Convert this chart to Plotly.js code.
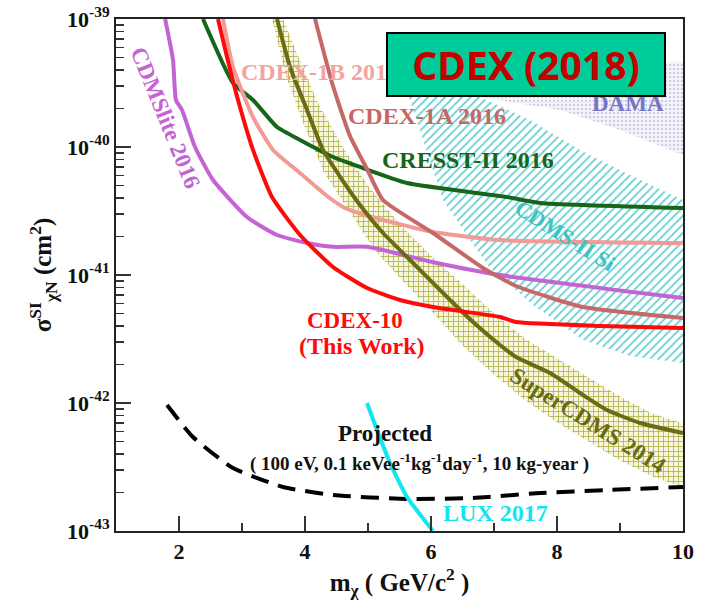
<!DOCTYPE html>
<html><head><meta charset="utf-8">
<script src="https://cdn.plot.ly/plotly-3.0.1.min.js"></script>
<style>html,body{margin:0;padding:0;background:#fff}#chart{width:705px;height:603px}</style>
</head><body><div id="chart"></div>
<script>
// ---- data (x = m_chi in GeV/c^2, y = log10 sigma in cm^2) ----
const cdmsliteX = [1.78, 1.905, 1.952, 2.048, 2.254, 2.54, 3.079, 3.556, 4.032, 4.444, 4.984, 6.032, 7.095, 10.0];
const cdmsliteY = [-39.0, -39.32, -39.633, -39.711, -40.0, -40.258, -40.547, -40.6875, -40.75, -40.78, -40.78, -40.9, -41.0, -41.18];

const cdex10X = [2.619, 2.762, 2.937, 3.175, 3.476, 3.921, 4.444, 4.984, 5.508, 6.032, 7.095, 7.349, 8.683, 10.0];
const cdex10Y = [-39.0, -39.297, -39.633, -40.023, -40.391, -40.6875, -40.9375, -41.102, -41.195, -41.25, -41.328, -41.367, -41.398, -41.414];

const cdex1bX = [2.698, 2.857, 3.175, 3.492, 3.921, 4.349, 4.635, 5.0, 6.032, 7.095, 10.0];
const cdex1bY = [-39.0, -39.375, -39.766, -40.023, -40.203, -40.383, -40.477, -40.539, -40.664, -40.727, -40.75];

const cresstX = [2.381, 2.857, 3.175, 3.556, 3.921, 4.444, 4.873, 5.619, 7.206, 7.73, 10.0];
const cresstY = [-39.0, -39.5, -39.633, -39.844, -39.945, -40.078, -40.156, -40.281, -40.391, -40.4375, -40.477];

const cdex1aX = [4.159, 4.444, 4.714, 4.984, 5.238, 6.032, 6.825, 7.349, 8.413, 10.0];
const cdex1aY = [-39.0, -39.523, -39.914, -40.172, -40.414, -40.672, -40.945, -41.086, -41.25, -41.336];

const scdmsX = [3.556, 3.762, 4.032, 4.286, 4.603, 4.873, 5.238, 5.778, 6.302, 6.667, 7.095, 7.349, 7.889, 8.413, 8.794, 9.317, 10.0];
const scdmsY = [-39.0, -39.375, -39.711, -40.023, -40.266, -40.453, -40.672, -40.9375, -41.195, -41.367, -41.547, -41.641, -41.766, -41.9375, -42.055, -42.156, -42.234];

const scdmsUpX = [3.65, 3.9, 4.2, 4.6, 5.0, 5.5, 6.0, 6.5, 7.0, 7.5, 8.0, 8.5, 9.0, 9.5, 10.0];
const scdmsUpY = [-39.0, -39.3, -39.65, -40.0, -40.3, -40.6, -40.85, -41.07, -41.3, -41.5, -41.65, -41.8, -41.95, -42.08, -42.16];
const scdmsLoX = [3.476, 3.7, 4.0, 4.3, 4.7, 5.1, 5.5, 6.0, 6.5, 7.0, 7.5, 8.0, 8.5, 9.0, 9.5, 10.0];
const scdmsLoY = [-39.0, -39.45, -39.85, -40.2, -40.5, -40.8, -41.02, -41.28, -41.55, -41.78, -41.98, -42.15, -42.3, -42.45, -42.57, -42.66];

const luxX = [4.984, 5.143, 5.349, 5.619, 6.032];
const luxY = [-42.0, -42.211, -42.469, -42.734, -43.0];

const projX = [1.81, 2.222, 2.857, 3.651, 4.444, 5.619, 6.667, 7.73, 8.794, 10.0];
const projY = [-42.016, -42.266, -42.508, -42.656, -42.719, -42.75, -42.742, -42.703, -42.68, -42.656];

const cdmsSiX = [5.587, 6.778, 7.571, 8.365, 9.159, 10.0, 10.0, 9.159, 8.413, 7.619, 6.937, 6.619, 6.19, 5.937, 5.667];
const cdmsSiY = [-39.555, -39.609, -39.789, -40.023, -40.219, -40.414, -41.6875, -41.633, -41.508, -41.234, -40.945, -40.727, -40.414, -40.039, -39.633];

const damaX = [6.778, 10.0, 10.0, 9.0, 8.048, 6.778];
const damaY = [-39.32, -39.336, -40.0625, -39.867, -39.711, -39.609];

const yTickVals = [1e-43, 1e-42, 1e-41, 1e-40, 1e-39];
const yTickText = ['10<sup>-43</sup>', '10<sup>-42</sup>', '10<sup>-41</sup>', '10<sup>-40</sup>', '10<sup>-39</sup>'];
const xTickVals = [2, 4, 6, 8, 10];
const xTickText = ['2', '4', '6', '8', '10'];

// ---- build ----
const p10 = a => a.map(v => Math.pow(10, v));
const serif = 'Liberation Serif, Times New Roman, serif';

function line(x, y, color, width, dash) {
  return {x: x, y: p10(y), type: 'scatter', mode: 'lines', hoverinfo: 'skip',
    line: {color: color, width: width, dash: dash || 'solid', shape: 'spline', smoothing: 0.5}, showlegend: false};
}

const traces = [
  {x: damaX, y: p10(damaY), type: 'scatter', mode: 'none', fill: 'toself', showlegend: false,
   fillcolor: 'rgba(0,0,0,0)',
   fillpattern: {shape: '.', fgcolor: '#cdcde6', bgcolor: '#f5f5fa', size: 4, solidity: 0.3}},
  {x: cdmsSiX, y: p10(cdmsSiY), type: 'scatter', mode: 'none', fill: 'toself', showlegend: false,
   fillcolor: 'rgba(0,0,0,0)',
   fillpattern: {shape: '/', fgcolor: '#66cece', bgcolor: 'rgba(255,255,255,0)', size: 6, solidity: 0.3}},
  {x: scdmsUpX.concat(scdmsLoX.slice().reverse()), y: p10(scdmsUpY.concat(scdmsLoY.slice().reverse())),
   type: 'scatter', mode: 'none', fill: 'toself', showlegend: false, fillcolor: 'rgba(0,0,0,0)',
   fillpattern: {shape: '+', fgcolor: '#b2b24a', bgcolor: '#f6f6e0', size: 5, solidity: 0.3}},
  line(cresstX, cresstY, '#15661a', 4),
  line(cdex1bX, cdex1bY, '#f49a94', 4),
  line(cdmsliteX, cdmsliteY, '#c464d4', 4),
  line(cdex1aX, cdex1aY, '#c46868', 4),
  line(scdmsX, scdmsY, '#6b6b12', 4),
  line(cdex10X, cdex10Y, '#ff0a0a', 4),
  line(projX, projY, '#000000', 4, '18px,10px'),
  line(luxX, luxY, '#10e6ee', 4)
];

function ann(text, x, y, color, size, angle, extra) {
  return Object.assign({text: text, x: x, y: y, xref: 'x', yref: 'y', showarrow: false,
    textangle: angle || 0, font: {family: serif, size: size, color: color, weight: 'bold'}}, extra || {});
}

const annotations = [
  ann('CDMSlite 2016', 1.778, -39.773, '#c464d4', 23, 68),
  ann('CDEX-1B 2014', 4.238, -39.414, '#f4a4a0', 24, 0),
  ann('CDEX-1A 2016', 5.937, -39.758, '#c86666', 24, 0),
  ann('CRESST-II 2016', 6.587, -40.102, '#15661a', 24, 0),
  ann('DAMA', 9.127, -39.66, '#7474c8', 23, 0),
  ann('CDMS-II Si', 8.127, -40.6875, '#3cc4c4', 22, 32),
  ann('CDEX-10', 4.794, -41.352, '#ff0a0a', 23, 0),
  ann('(This Work)', 4.905, -41.555, '#ff0a0a', 24, 0),
  ann('Projected', 5.27, -42.242, '#111', 23, 0),
  ann('( 100 eV, 0.1 keVee<sup>-1</sup>kg<sup>-1</sup>day<sup>-1</sup>, 10 kg-year )', 5.825, -42.461, '#111', 19, 0),
  ann('SuperCDMS 2014', 8.492, -42.133, '#6b6b12', 23, 32),
  ann('LUX 2017', 7.016, -42.859, '#10e6ee', 24, 0),
  {text: 'CDEX (2018)', x: 7.508, y: -39.355, xref: 'x', yref: 'y', showarrow: false,
   font: {family: 'Noto Sans, DejaVu Sans, sans-serif', size: 39, color: '#c40000', weight: 'bold'},
   bgcolor: '#00cc99', bordercolor: '#000', borderwidth: 2, borderpad: 0, width: 276, height: 61}
];

const axisCommon = {showline: true, linewidth: 2, linecolor: '#222', mirror: true, showgrid: false, zeroline: false,
  ticks: 'inside', ticklen: 15, tickwidth: 1.5, tickcolor: '#333',
  tickfont: {family: serif, size: 22, color: '#111', weight: 'bold'}};

const layout = {
  width: 705, height: 603,
  margin: {l: 116, r: 22, t: 19, b: 72},
  paper_bgcolor: '#fff', plot_bgcolor: '#fff',
  showlegend: false,
  xaxis: Object.assign({}, axisCommon, {range: [1, 10], tickmode: 'array', tickvals: xTickVals, ticktext: xTickText,
    minor: {dtick: 1, ticks: 'inside', ticklen: 8, tickcolor: '#333', tickwidth: 1.5, showgrid: false},
    title: {text: 'm<sub>χ</sub> ( GeV/c<sup>2</sup> )', font: {family: serif, size: 25, color: '#111', weight: 'bold'}, standoff: 10}}),
  yaxis: Object.assign({}, axisCommon, {type: 'log', range: [-43, -39], tickmode: 'array', tickvals: yTickVals, ticktext: yTickText,
    minor: {dtick: 'D1', ticks: 'inside', ticklen: 8, tickcolor: '#333', tickwidth: 1.5, showgrid: false},
    title: {text: 'σ<sup>SI</sup><sub>χN</sub> (cm<sup>2</sup>)', font: {family: serif, size: 25, color: '#111', weight: 'bold'}, standoff: 8}}),
  annotations: annotations
};

Plotly.newPlot('chart', traces, layout, {staticPlot: true, displayModeBar: false});
</script></body></html>
